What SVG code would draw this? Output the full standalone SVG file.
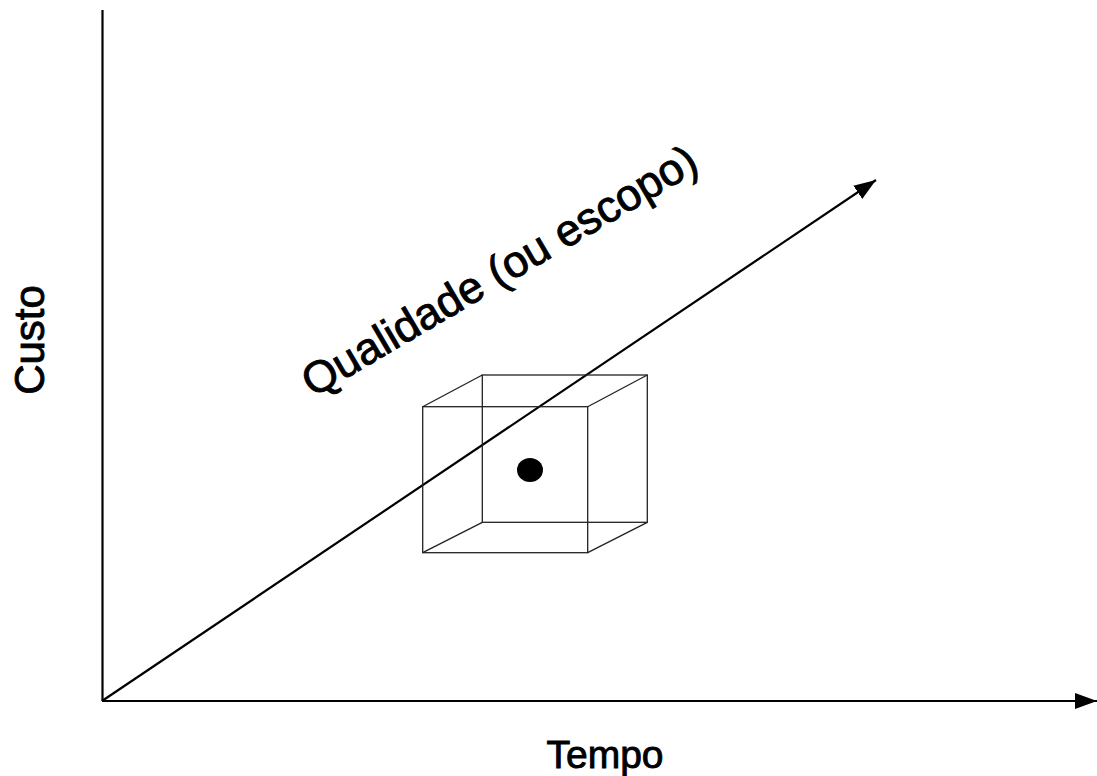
<svg xmlns="http://www.w3.org/2000/svg" width="1097" height="776" viewBox="0 0 1097 776">
<style>
.axis{stroke:#000;stroke-width:2.2;fill:none}
.cube{stroke:#222;stroke-width:1.3;fill:none}
.lbl{font-family:"Liberation Sans",Arial,sans-serif;fill:#000;stroke:#000;stroke-width:0.9}
</style>
<defs>
<marker id="ah2" viewBox="0 0 10 10" refX="10" refY="5" markerWidth="22" markerHeight="16" markerUnits="userSpaceOnUse" orient="auto" preserveAspectRatio="none">
<path d="M0,0 L10,5 L0,10 z" fill="#000"/>
</marker>
</defs>
<rect width="1097" height="776" fill="#fff"/>
<g id="connectors">
<line class="axis" x1="102.5" y1="10" x2="102.5" y2="701"/>
<line class="axis" x1="102" y1="701" x2="1097" y2="701" marker-end="url(#ah2)"/>
<line class="axis" x1="102" y1="701" x2="876" y2="180" marker-end="url(#ah2)"/>
</g>
<g id="cube">
<rect class="cube" x="422.7" y="406.7" width="165" height="146"/>
<rect class="cube" x="482.3" y="375" width="165" height="147.3"/>
<line class="cube" x1="422.7" y1="406.7" x2="482.3" y2="375"/>
<line class="cube" x1="587.7" y1="406.7" x2="647.3" y2="375"/>
<line class="cube" x1="422.7" y1="552.7" x2="482.3" y2="522.3"/>
<line class="cube" x1="587.7" y1="552.7" x2="647.3" y2="522.3"/>
</g>
<g id="point">
<ellipse cx="530" cy="470" rx="13" ry="12" fill="#000"/>
</g>
<g id="label-qualidade">
<text class="lbl" x="313" y="398" font-size="44.5" transform="rotate(-30.5 313 398)">Qualidade (ou escopo)</text>
</g>
<g id="label-custo">
<text class="lbl" x="0" y="0" font-size="42" text-anchor="middle" transform="translate(44 340) rotate(-90)">Custo</text>
</g>
<g id="label-tempo">
<text class="lbl" x="605" y="768" font-size="39" text-anchor="middle">Tempo</text>
</g>
</svg>
